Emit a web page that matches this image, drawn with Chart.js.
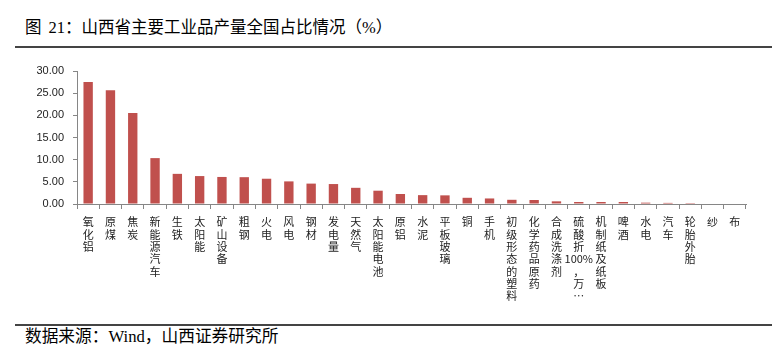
<!DOCTYPE html>
<html><head><meta charset="utf-8">
<script src="https://cdn.jsdelivr.net/npm/chart.js@4/dist/chart.umd.min.js"></script>
<style>
html,body{margin:0;padding:0;background:#fff;width:772px;height:346px;overflow:hidden;position:relative;font-family:"Liberation Serif","Noto Sans CJK SC",serif;color:#000}
#title{position:absolute;left:25px;top:17px;font-size:16.5px;white-space:nowrap;line-height:22px}
#title .sp{display:inline-block;width:7px}
#tline{position:absolute;left:15px;right:0;top:45.5px;height:0;border-top:2px solid #444}
#fline{position:absolute;left:15px;right:0;top:323.5px;height:0;border-top:2px solid #444}
#foot{position:absolute;left:25px;top:326px;font-size:16.7px;white-space:nowrap;line-height:22px}
#wrap{position:absolute;left:0;top:55px;width:772px;height:260px}
</style></head><body>
<div id="title">图<span class="sp"> </span>21：山西省主要工业品产量全国占比情况（%）</div>
<div id="tline"></div>
<div id="wrap"><canvas id="c"></canvas></div>
<div id="fline"></div>
<div id="foot">数据来源：Wind，山西证券研究所</div>
<script>
const categories = ["氧化铝","原煤","焦炭","新能源汽车","生铁","太阳能","矿山设备","粗钢","火电","风电","钢材","发电量","天然气","太阳能电池","原铝","水泥","平板玻璃","铜","手机","初级形态的塑料","化学药品原药","合成洗涤剂","硫酸折100%，万…","机制纸及纸板","啤酒","水电","汽车","轮胎外胎","纱","布"];
const shares = [27.5,25.65,20.5,10.35,6.8,6.3,6.1,6.05,5.7,5.1,4.6,4.5,3.65,3.0,2.25,2.0,1.95,1.4,1.25,0.95,0.9,0.6,0.45,0.45,0.45,0.3,0.25,0.02,0,0];
const yTicks = [0,5,10,15,20,25,30];

function verticalLabel(s){
  const out=[]; let buf='';
  for(const ch of s){
    if(/[0-9%A-Za-z.]/.test(ch)){buf+=ch;}
    else{ if(buf){out.push(buf);buf='';} out.push(ch);}
  }
  if(buf) out.push(buf);
  return out;
}
const labels = categories.map(verticalLabel);

new Chart(document.getElementById('c'),{
  type:'bar',
  data:{labels:labels,datasets:[{data:shares,backgroundColor:'#C0504D',borderWidth:0,barPercentage:0.42,categoryPercentage:1}]},
  options:{
    responsive:true,maintainAspectRatio:false,animation:false,
    layout:{padding:{left:0,right:26,top:16,bottom:0}},
    plugins:{legend:{display:false},tooltip:{enabled:false}},
    scales:{
      y:{min:0,max:30,
        afterBuildTicks:(ax)=>{ax.ticks=yTicks.map(v=>({value:v}));},
        afterFit:(ax)=>{ax.width=77;},
        ticks:{callback:(v)=>Number(v).toFixed(2),font:{family:'"Liberation Sans", Arial, sans-serif',size:11},color:'#222',padding:9},
        grid:{drawOnChartArea:false,drawTicks:true,tickLength:4,color:'#868686'},
        border:{display:true,color:'#868686',width:1}
      },
      x:{
        afterFit:(ax)=>{ax.height=111;},
        ticks:{autoSkip:false,maxRotation:0,minRotation:0,font:{family:'"Noto Sans CJK SC", sans-serif',size:11,lineHeight:'12.3px'},color:'#222',padding:7},
        grid:{offset:true,drawOnChartArea:false,drawTicks:true,tickLength:5,color:'#868686'},
        border:{display:true,color:'#868686',width:1}
      }
    }
  }
});
</script>
</body></html>
